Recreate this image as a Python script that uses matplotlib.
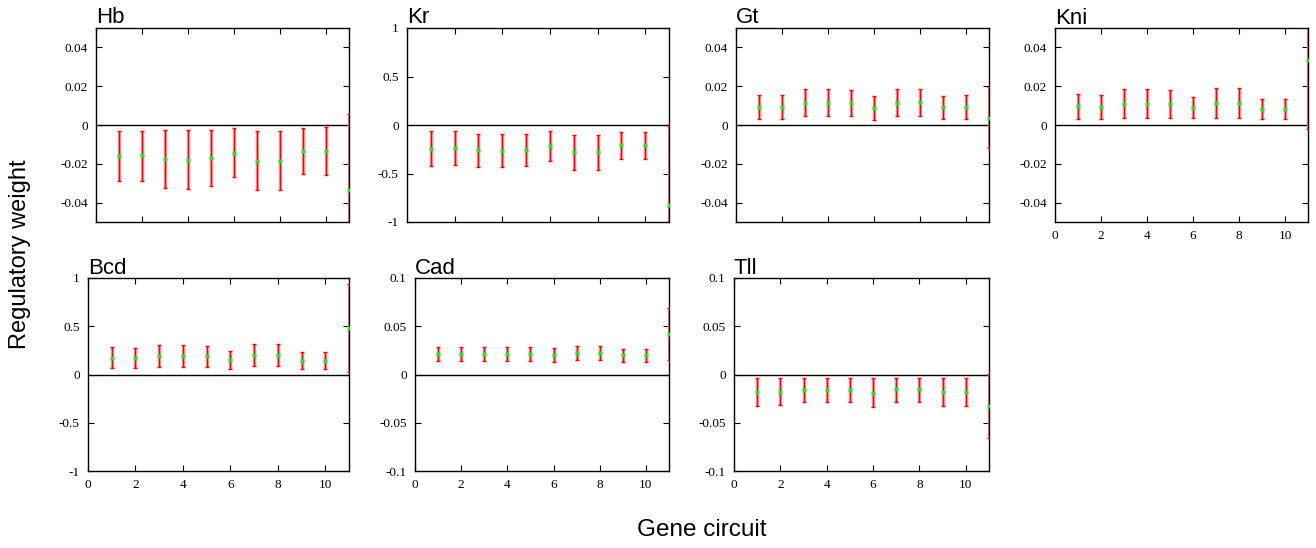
import numpy as np
import matplotlib
matplotlib.use("Agg")
import matplotlib.pyplot as plt
from matplotlib.ticker import FuncFormatter

plt.rcParams['axes.unicode_minus'] = False

circuits = [1, 2, 3, 4, 5, 6, 7, 8, 9, 10, 11]

# mean weight, lower and upper end of each error bar
hb_mean = [-0.016, -0.0157, -0.0175, -0.0178, -0.0172, -0.0143, -0.0183, -0.0183, -0.0133, -0.0135, -0.0333]
hb_low = [-0.029, -0.0288, -0.0325, -0.033, -0.0317, -0.0267, -0.0337, -0.0337, -0.0253, -0.0257, -0.072]
hb_high = [-0.0032, -0.003, -0.0025, -0.0027, -0.0027, -0.0018, -0.003, -0.003, -0.0015, -0.0012, 0.0055]

kr_mean = [-0.243, -0.236, -0.26, -0.267, -0.257, -0.216, -0.277, -0.277, -0.209, -0.209, -0.829]
kr_low = [-0.418, -0.408, -0.432, -0.438, -0.418, -0.37, -0.459, -0.459, -0.353, -0.353, -1.6]
kr_high = [-0.065, -0.065, -0.096, -0.096, -0.096, -0.065, -0.103, -0.103, -0.068, -0.068, -0.014]

gt_mean = [0.0092, 0.0092, 0.0115, 0.0115, 0.0113, 0.009, 0.0115, 0.0116, 0.0092, 0.0092, 0.0038]
gt_low = [0.0031, 0.0031, 0.0046, 0.0046, 0.0046, 0.0027, 0.0044, 0.0044, 0.0031, 0.0031, -0.0116]
gt_high = [0.0154, 0.0154, 0.0183, 0.0183, 0.018, 0.0152, 0.0185, 0.0185, 0.0152, 0.0154, 0.0195]

kni_mean = [0.0096, 0.0094, 0.011, 0.011, 0.0108, 0.0087, 0.0113, 0.0113, 0.0085, 0.0085, 0.0333]
kni_low = [0.0031, 0.0031, 0.0036, 0.0036, 0.0036, 0.0034, 0.0034, 0.0034, 0.0031, 0.0031, -0.0019]
kni_high = [0.0161, 0.0157, 0.0183, 0.0185, 0.0181, 0.0144, 0.0191, 0.0191, 0.0135, 0.0135, 0.068]

bcd_mean = [0.176, 0.172, 0.193, 0.193, 0.19, 0.155, 0.2, 0.2, 0.145, 0.145, 0.486]
bcd_low = [0.066, 0.066, 0.079, 0.079, 0.079, 0.059, 0.086, 0.086, 0.055, 0.055, 0.028]
bcd_high = [0.286, 0.279, 0.303, 0.303, 0.293, 0.248, 0.314, 0.314, 0.231, 0.231, 0.941]

cad_mean = [0.021, 0.021, 0.0214, 0.0214, 0.0214, 0.0203, 0.0221, 0.0221, 0.0197, 0.0197, 0.0417]
cad_low = [0.0138, 0.0138, 0.0141, 0.0141, 0.0141, 0.0131, 0.0148, 0.0148, 0.0128, 0.0128, 0.0152]
cad_high = [0.0283, 0.0283, 0.0286, 0.0286, 0.0283, 0.0272, 0.0293, 0.0293, 0.0266, 0.0266, 0.0686]

tll_mean = [-0.0182, -0.0178, -0.0164, -0.0161, -0.0164, -0.0192, -0.0154, -0.0154, -0.0185, -0.0185, -0.0329]
tll_low = [-0.0322, -0.0318, -0.0288, -0.0284, -0.0288, -0.0336, -0.0281, -0.0281, -0.0329, -0.0329, -0.0661]
tll_high = [-0.0038, -0.0038, -0.0038, -0.0038, -0.0038, -0.0038, -0.0038, -0.0038, -0.0041, -0.0041, 0.0003]

# name, data, y limit, y ticks, axes box in pixels (left, right, top, bottom), show x labels
panels = [
    ("Hb", hb_mean, hb_low, hb_high, 0.05, [-0.04, -0.02, 0, 0.02, 0.04], (96, 349, 28, 222), False),
    ("Kr", kr_mean, kr_low, kr_high, 1.0, [-1, -0.5, 0, 0.5, 1], (407, 669, 28, 222), False),
    ("Gt", gt_mean, gt_low, gt_high, 0.05, [-0.04, -0.02, 0, 0.02, 0.04], (736, 989, 28, 222), False),
    ("Kni", kni_mean, kni_low, kni_high, 0.05, [-0.04, -0.02, 0, 0.02, 0.04], (1055, 1308, 28, 222), True),
    ("Bcd", bcd_mean, bcd_low, bcd_high, 1.0, [-1, -0.5, 0, 0.5, 1], (88, 349, 278, 471), True),
    ("Cad", cad_mean, cad_low, cad_high, 0.1, [-0.1, -0.05, 0, 0.05, 0.1], (415, 669, 278, 471), True),
    ("Tll", tll_mean, tll_low, tll_high, 0.1, [-0.1, -0.05, 0, 0.05, 0.1], (734, 989, 278, 471), True),
]

W, H = 1316, 548
fig = plt.figure(figsize=(W / 100, H / 100), dpi=100)

fmt = FuncFormatter(lambda v, p: f"{v:g}")

for name, mean, low, high, lim, yt, box, xlab in panels:
    l, r, t, b = box
    ax = fig.add_axes([l / W, 1 - b / H, (r - l) / W, (b - t) / H])
    mean = np.array(mean)
    err = [mean - np.array(low), np.array(high) - mean]
    ax.axhline(0, color='black', lw=1, zorder=1)
    # soft wide bar under a thin red one
    ax.errorbar(circuits, mean, yerr=err, fmt='none', ecolor='#ff9a9a', elinewidth=2.4, capsize=0, zorder=2)
    ax.errorbar(circuits, mean, yerr=err, fmt='none', ecolor='#ff0000', elinewidth=0.9,
                capsize=1.6, capthick=1.0, zorder=3)
    ax.plot(circuits, mean, 's', color='#22e622', ms=3.4, mec='none', zorder=4)
    ax.set_xlim(0, 11)
    ax.set_ylim(-lim, lim)
    ax.set_xticks([0, 2, 4, 6, 8, 10])
    ax.set_yticks(yt)
    ax.yaxis.set_major_formatter(fmt)
    ax.tick_params(direction='in', top=True, right=True, length=4, width=0.8,
                   labelsize=9.5, pad=6)
    for lab in ax.get_xticklabels() + ax.get_yticklabels():
        lab.set_family('Liberation Serif')
    if not xlab:
        ax.set_xticklabels([])
    for s in ax.spines.values():
        s.set_linewidth(1.0)
    ax.set_title(name, loc='left', fontsize=16, family='Liberation Sans', pad=3)

fig.text(20 / W, 1 - 254 / H, "Regulatory weight", rotation=90, ha='center', va='center',
         fontsize=17, family='Liberation Sans')
fig.text(702 / W, 1 - 530 / H, "Gene circuit", ha='center', va='center',
         fontsize=17.5, family='Liberation Sans')

fig.savefig("out.png", dpi=100)
